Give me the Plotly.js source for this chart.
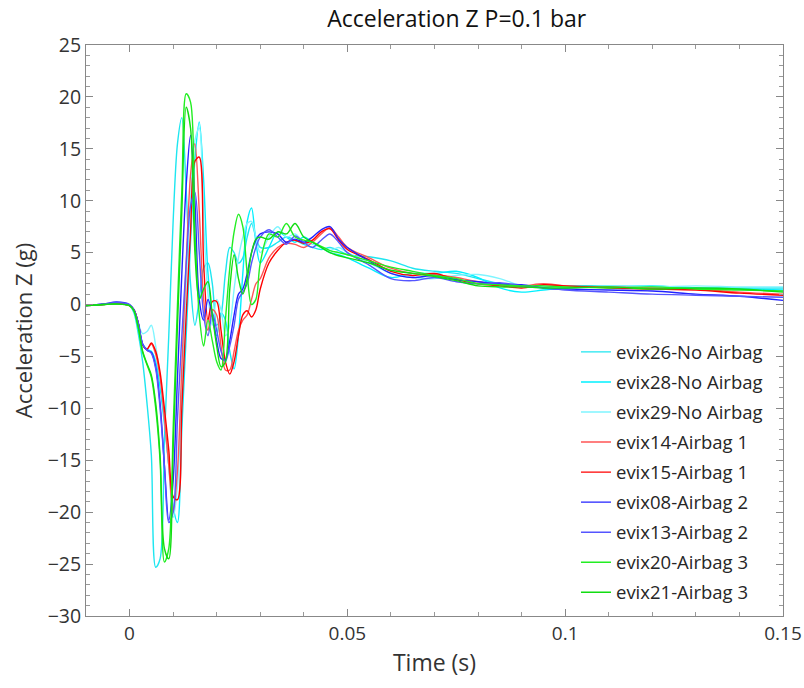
<!DOCTYPE html>
<html>
<head>
<meta charset="utf-8">
<script src="https://cdn.plot.ly/plotly-3.0.1.min.js"></script>
<style>html,body{margin:0;padding:0;background:#fff;}#chart{width:804px;height:688px;}</style>
</head>
<body>
<div id="chart"></div>
<script>
// shared time base (s)
var time = [-0.010,-0.006,-0.003,0.000,0.001,0.002,0.003,0.004,0.005,0.006,0.007,0.008,0.009,0.010,0.011,0.012,0.013,0.014,0.015,0.016,0.017,0.018,0.019,0.020,0.021,0.022,0.023,0.024,0.025,0.026,0.027,0.028,0.029,0.030,0.032,0.034,0.036,0.038,0.040,0.042,0.044,0.046,0.048,0.050,0.055,0.060,0.065,0.070,0.075,0.080,0.085,0.090,0.095,0.100,0.110,0.120,0.130,0.140,0.150];

var evix26 = [-0.1,0.0,0.1,-0.1,-0.8,-2.8,-5.5,-9.5,-14.5,-25.3,-24.5,-13.0,-3.0,8.0,15.5,18.0,11.0,2.0,-2.0,0.5,3.5,4.0,2.0,-2.0,-1.0,3.0,5.5,5.0,4.0,4.5,6.5,7.8,6.5,5.5,5.5,6.0,6.5,6.2,5.8,5.5,5.3,5.5,5.2,4.8,4.6,4.2,3.5,3.2,3.0,2.5,2.0,1.8,1.7,1.8,1.8,1.7,1.6,1.6,1.6];
var evix28 = [-0.1,0.0,0.1,-0.1,-0.5,-1.8,-3.8,-4.3,-4.5,-5.5,-8.0,-11.5,-15.5,-19.5,-21.0,-12.0,-3.0,6.0,14.0,17.6,12.0,3.0,-1.0,-3.0,-0.8,-1.5,-4.5,-6.2,-3.0,3.0,8.0,9.3,6.0,4.0,5.5,7.0,6.5,6.0,6.5,6.0,5.5,5.0,4.8,4.5,3.5,2.6,3.0,3.0,3.2,2.6,1.6,1.2,1.4,1.6,1.7,1.8,1.6,1.5,1.4];
var evix29 = [-0.1,0.0,0.1,-0.1,-0.6,-1.8,-2.8,-2.6,-2.0,-4.0,-7.0,-11.0,-15.5,-20.5,-17.5,-8.0,2.0,10.0,15.8,17.0,8.0,1.0,-2.0,0.5,-0.5,-3.0,-2.0,1.5,4.5,6.5,7.8,8.0,6.5,5.0,6.5,7.5,6.5,6.8,6.0,5.8,5.5,5.2,5.5,5.0,4.0,3.0,2.6,2.5,2.8,2.9,2.5,1.8,1.6,1.6,1.8,1.7,1.8,1.7,1.7];
var evix14 = [-0.1,0.0,0.1,-0.1,-0.5,-1.8,-3.9,-4.3,-3.8,-4.8,-7.0,-11.0,-15.5,-20.0,-16.0,-6.0,4.0,12.5,15.5,9.0,0.5,-2.5,-0.5,-1.0,-4.0,-6.3,-6.3,-4.5,-2.5,-1.5,-1.0,0.5,2.0,2.5,4.5,5.5,5.9,5.8,5.5,6.0,6.8,7.4,6.5,5.5,4.5,3.5,3.0,2.9,2.6,2.2,1.9,1.8,2.0,1.8,1.7,1.6,1.5,1.2,1.0];
var evix15 = [-0.1,0.0,0.1,-0.1,-0.5,-1.8,-3.9,-4.3,-3.7,-4.5,-6.5,-10.0,-14.0,-18.5,-18.8,-10.0,-1.0,7.0,13.8,14.2,4.0,-1.5,0.3,0.3,-2.5,-5.5,-6.7,-5.5,-3.0,-1.0,-0.6,-1.2,-0.5,1.5,4.0,5.2,6.0,6.2,5.9,6.2,7.0,7.3,6.2,5.3,4.3,3.2,2.8,3.0,2.4,2.0,1.8,1.6,1.9,1.8,1.6,1.5,1.4,1.1,0.9];
var evix08 = [-0.1,0.05,0.25,0.0,-0.5,-1.8,-3.8,-4.4,-4.6,-6.0,-9.5,-15.5,-20.8,-17.0,-7.0,3.0,11.5,16.3,10.0,0.5,-1.5,0.5,-1.0,-3.5,-5.2,-5.3,-3.5,-1.0,1.0,1.5,3.0,5.0,6.2,6.8,7.0,6.8,6.0,6.3,6.0,6.5,7.2,7.5,6.3,5.5,4.2,3.0,2.6,2.8,2.4,2.2,2.0,1.9,1.6,1.5,1.4,1.3,1.0,0.8,0.4];
var evix13 = [-0.1,0.05,0.2,0.0,-0.5,-1.8,-3.8,-4.4,-4.7,-6.2,-10.0,-15.5,-21.0,-20.0,-11.0,-3.0,4.0,9.5,10.8,5.0,-1.0,-3.0,-0.8,-2.5,-4.5,-5.5,-4.0,-2.0,0.5,1.2,2.0,4.0,5.5,6.5,7.2,6.5,5.8,6.6,6.0,5.5,6.2,6.8,6.0,5.0,3.8,2.5,2.3,2.6,2.2,2.0,2.1,1.8,1.6,1.4,1.2,1.0,0.9,0.8,0.7];
var evix20 = [-0.1,0.0,0.05,-0.1,-0.6,-2.2,-4.6,-5.8,-7.0,-10.0,-15.0,-24.8,-23.5,-12.0,0.0,11.0,20.3,19.5,7.0,-1.0,-4.0,-1.5,-3.5,-5.5,-6.3,-1.5,3.5,7.0,8.7,7.5,3.0,0.0,0.5,4.0,6.8,6.5,7.8,6.5,6.2,6.0,5.6,5.2,5.0,4.8,4.2,3.6,3.2,2.8,2.5,2.0,1.9,1.8,1.8,1.7,1.6,1.7,1.5,1.4,1.3];
var evix21 = [-0.1,0.0,0.05,-0.1,-0.6,-2.2,-4.5,-5.7,-6.8,-9.5,-14.5,-23.5,-24.5,-14.0,-2.0,9.0,19.0,17.0,5.0,0.5,1.5,2.2,-1.0,-4.0,-6.0,-5.5,1.5,4.8,2.5,1.0,2.5,5.0,6.3,6.5,6.3,7.0,6.8,7.8,6.5,6.0,5.5,5.0,4.7,4.5,4.0,3.3,3.0,2.7,2.3,1.8,1.7,1.7,1.6,1.6,1.7,1.5,1.6,1.5,1.2];

var names = ['evix26-No Airbag','evix28-No Airbag','evix29-No Airbag','evix14-Airbag 1','evix15-Airbag 1','evix08-Airbag 2','evix13-Airbag 2','evix20-Airbag 3','evix21-Airbag 3'];
var series = [evix26, evix28, evix29, evix14, evix15, evix08, evix13, evix20, evix21];
var colors = ['#1ee6f0','#00f0ff','#7ff5ff','#ff5555','#ff0000','#2222ff','#5555ff','#22ee22','#11dd11'];

var xTicks = [0, 0.05, 0.1, 0.15];
var xTickText = ['0', '0.05', '0.1', '0.15'];
var yTicks = [-30,-25,-20,-15,-10,-5,0,5,10,15,20,25];

var traces = series.map(function(s, i){
  return {x: time, y: s, name: names[i], type: 'scatter', mode: 'lines', legendgroup: 'g' + i,
    line: {color: colors[i], width: 1.4, shape: 'spline', smoothing: 0.9}};
});

var fnt = 'Open Sans, Noto Sans, sans-serif';
var layout = {
  width: 804, height: 688,
  margin: {l: 86, r: 21, t: 45, b: 72},
  paper_bgcolor: '#fff', plot_bgcolor: '#fff',
  font: {family: fnt, color: '#262626', size: 18},
  title: {text: 'Acceleration Z P=0.1 bar', font: {family: fnt, size: 23, color: '#111'}, x: 0.568, xanchor: 'center', y: 0.972, yanchor: 'middle'},
  showlegend: true,
  legend: {x: 0.703, y: 0.495, xanchor: 'left', yanchor: 'top', bgcolor: 'rgba(0,0,0,0)', font: {family: fnt, size: 18.5, color: '#262626'}, traceorder: 'grouped', tracegroupgap: 3},
  xaxis: {range: [-0.01, 0.15], tickvals: xTicks, ticktext: xTickText, ticks: 'inside', ticklen: 7, tickcolor: '#888', showline: true, linecolor: '#888', mirror: 'ticks', showgrid: false, zeroline: false,
    ticklabeloverflow: 'allow',
    minor: {dtick: 0.01, tick0: 0, ticks: 'inside', ticklen: 4, tickcolor: '#999', showgrid: false},
    tickfont: {size: 19, color: '#333'},
    title: {text: 'Time (s)', font: {size: 23, color: '#333'}, standoff: 10}},
  yaxis: {range: [-30, 25], tickvals: yTicks, ticks: 'inside', ticklen: 7, tickcolor: '#888', showline: true, linecolor: '#888', mirror: 'ticks', showgrid: false, zeroline: false,
    minor: {dtick: 1, tick0: 0, ticks: 'inside', ticklen: 4, tickcolor: '#999', showgrid: false},
    tickfont: {size: 19.5, color: '#333'},
    title: {text: 'Acceleration Z (g)', font: {size: 22, color: '#333'}, standoff: 8}}
};

Plotly.newPlot('chart', traces, layout, {displayModeBar: false, staticPlot: true});
</script>
</body>
</html>
